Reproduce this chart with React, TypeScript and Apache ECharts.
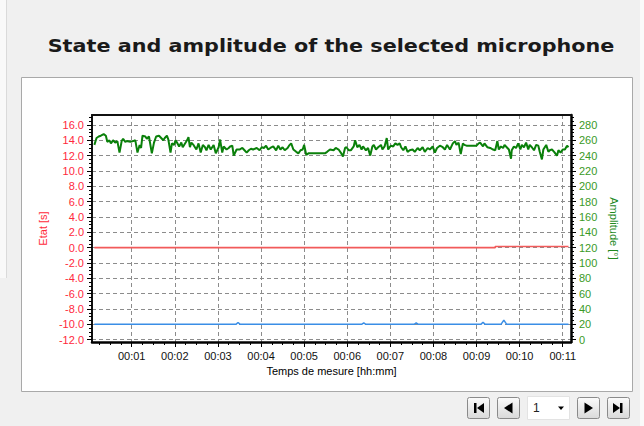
import React, { useEffect, useRef } from "react";
import * as echarts from "echarts";

const TITLE = "State and amplitude of the selected microphone";
const X_NAME = "Temps de mesure [hh:mm]";
const LEFT_NAME = "Etat [s]";
const RIGHT_NAME = "Amplitude [°]";
const PAGE_LABEL = "1";

// x axis (seconds), major ticks every minute
const xMajorTicks = [60, 120, 180, 240, 300, 360, 420, 480, 540, 600, 660];
const leftTicks = [-12, -10, -8, -6, -4, -2, 0, 2, 4, 6, 8, 10, 12, 14, 16];
const rightTicks = [0, 20, 40, 60, 80, 100, 120, 140, 160, 180, 200, 220, 240, 260, 280];

// Amplitude (green, right axis): time [s], value [°]
const ampTimes = [
  8, 11, 14, 17, 21, 24, 26, 29, 31, 34, 37, 40, 43, 46, 48, 51, 53, 58, 62, 65,
  68, 71, 73, 75, 79, 81, 84, 88, 91, 94, 98, 101, 104, 106, 109, 111, 114, 116, 119, 121,
  123, 126, 129, 131, 137, 139, 141, 143, 146, 150, 153, 156, 159, 162, 164, 167, 170, 174, 177, 181,
  183, 186, 188, 192, 195, 197, 200, 202, 206, 210, 214, 217, 220, 223, 226, 229, 234, 238, 241, 244,
  247, 250, 253, 257, 261, 264, 267, 270, 273, 277, 279, 282, 285, 289, 292, 295, 298, 300, 303, 306,
  318, 329, 332, 336, 341, 344, 348, 351, 354, 357, 359, 362, 365, 369, 371, 374, 377, 380, 382, 386,
  389, 392, 395, 397, 400, 403, 407, 409, 412, 415, 417, 419, 421, 424, 427, 430, 433, 435, 438, 441,
  444, 447, 451, 454, 458, 461, 465, 468, 472, 475, 479, 482, 485, 489, 493, 496, 499, 503, 507, 510,
  512, 515, 518, 521, 523, 526, 540, 543, 545, 549, 551, 555, 559, 563, 566, 569, 571, 574, 577, 579,
  582, 585, 588, 589, 592, 595, 598, 601, 603, 606, 609, 612, 614, 617, 620, 623, 626, 628, 631, 633,
  635, 637, 640, 642, 645, 648, 652, 654, 657, 660, 663, 666, 668,
];
const ampValues = [
  254, 263, 265, 266, 268, 266, 258, 260, 256, 260, 257, 259, 244, 259, 262, 258, 259, 258, 259, 260,
  244, 254, 250, 266, 265, 262, 265, 243, 257, 265, 266, 263, 260, 263, 266, 261, 244, 256, 254, 260,
  257, 252, 257, 251, 260, 264, 251, 257, 254, 248, 256, 244, 254, 251, 247, 254, 248, 254, 243, 251,
  261, 244, 252, 248, 250, 252, 253, 240, 248, 248, 250, 247, 244, 247, 249, 248, 250, 247, 251, 250,
  253, 248, 250, 252, 247, 253, 248, 251, 247, 250, 253, 256, 248, 245, 243, 247, 248, 254, 241, 243,
  243, 243, 245, 248, 247, 250, 248, 244, 239, 250, 251, 247, 247, 252, 260, 251, 254, 248, 252, 247,
  250, 240, 252, 254, 248, 251, 254, 248, 252, 263, 248, 251, 253, 252, 256, 254, 256, 251, 247, 252,
  245, 247, 248, 245, 250, 247, 251, 245, 250, 248, 252, 244, 250, 253, 251, 248, 254, 248, 256, 259,
  254, 257, 242, 256, 254, 253, 253, 256, 257, 252, 256, 251, 250, 248, 247, 259, 248, 252, 250, 254,
  251, 248, 236, 247, 252, 250, 256, 248, 254, 251, 257, 248, 254, 251, 247, 254, 253, 245, 235, 248,
  251, 254, 245, 247, 248, 245, 240, 247, 244, 248, 248, 253, 251,
];

// Etat (red, left axis)
const etatTimes = [8, 566, 566, 668];
const etatValues = [0, 0, 0.15, 0.15];

// Signal (blue, left axis)
const signalTimes = [8, 205, 208, 211, 380, 383, 386, 453, 456, 459, 546, 549, 552, 574, 578, 582, 668];
const signalValues = [-10, -10, -9.75, -10, -10, -9.82, -10, -10, -9.82, -10, -10, -9.72, -10, -10, -9.45, -10, -10];

const X_MIN = 4.7;
const X_MAX = 671.5;
const L_MIN = -12.3;
const L_MAX = 17.3;
const R_MIN = -3;
const R_MAX = 293;

const FONT = "'Liberation Sans', Arial, sans-serif";

function range(a: number, b: number, step: number): number[] {
  const out: number[] = [];
  for (let v = a; v <= b + 1e-9; v += step) out.push(Math.round(v * 100) / 100);
  return out;
}

export default function App() {
  const ref = useRef<HTMLDivElement>(null);

  useEffect(() => {
    document.body.style.margin = "0";
    if (!ref.current) return;
    const chart = echarts.init(ref.current, undefined, { renderer: "svg" });

    const xMinor = range(15, 660, 15);
    const leftMinor = range(-12, 17, 0.5);
    const rightMinor = range(0, 290, 5);

    const btnFill = new echarts.graphic.LinearGradient(0, 0, 0, 1, [
      { offset: 0, color: "#fbfbfb" },
      { offset: 1, color: "#d9d9d9" },
    ]);
    const btn = (x: number) => ({
      type: "rect",
      shape: { x: x + 0.5, y: 397.5, width: 22, height: 21, r: 2 },
      style: { fill: btnFill, stroke: "#8a8a8a", lineWidth: 1 },
      z: 5,
    });
    const poly = (pts: number[][]) => ({
      type: "polygon",
      shape: { points: pts },
      style: { fill: "#000" },
      z: 6,
    });

    const option: any = {
      animation: false,
      backgroundColor: "#f0f0f0",
      textStyle: { fontFamily: FONT },
      grid: {
        left: 92,
        right: 73,
        top: 115,
        bottom: 84,
        outerBoundsMode: "none",
      },
      graphic: [
        { type: "rect", shape: { x: 0, y: 0, width: 6, height: 278 }, style: { fill: "#f9f9f9" }, z: -20 },
        { type: "line", shape: { x1: 6.5, y1: 0, x2: 6.5, y2: 278 }, style: { stroke: "#dadada", lineWidth: 1 }, z: -19 },
        { type: "rect", shape: { x: 640, y: 0, width: 4, height: 426 }, style: { fill: "#fafafa" }, z: -20 },
        {
          type: "rect",
          shape: { x: 21.5, y: 77.5, width: 611, height: 314 },
          style: { fill: "#ffffff", stroke: "#a9a9a9", lineWidth: 1 },
          z: -10,
        },
        {
          type: "text",
          x: 331,
          y: 46,
          scaleX: 1.22,
          style: {
            text: TITLE,
            fontFamily: "'DejaVu Sans', sans-serif",
            fontWeight: "bold",
            fontSize: 17,
            fill: "#1a1a1a",
            textAlign: "center",
            textVerticalAlign: "middle",
          },
          z: 10,
        },
        btn(467),
        { type: "rect", shape: { x: 474, y: 403, width: 2.5, height: 10 }, style: { fill: "#000" }, z: 6 },
        poly([[484, 403], [484, 413], [477, 408]]),
        btn(497),
        poly([[512.5, 402.5], [512.5, 413.5], [504, 408]]),
        {
          type: "rect",
          shape: { x: 527.5, y: 396.5, width: 42, height: 23 },
          style: { fill: "#ffffff", stroke: "#e3e3e3", lineWidth: 1 },
          z: 5,
        },
        {
          type: "text",
          x: 533,
          y: 408,
          style: {
            text: PAGE_LABEL,
            fontFamily: FONT,
            fontSize: 12,
            fill: "#222",
            textVerticalAlign: "middle",
          },
          z: 6,
        },
        poly([[558, 406.5], [564, 406.5], [561, 410]]),
        btn(577),
        poly([[584.5, 402.5], [584.5, 413.5], [593, 408]]),
        btn(607),
        poly([[613, 403], [613, 413], [620, 408]]),
        { type: "rect", shape: { x: 620, y: 403, width: 2.5, height: 10 }, style: { fill: "#000" }, z: 6 },
      ],
      xAxis: [
        {
          type: "value",
          position: "bottom",
          min: X_MIN,
          max: X_MAX,
          name: X_NAME,
          nameLocation: "middle",
          nameGap: 23,
          nameTextStyle: { color: "#000", fontSize: 11, fontFamily: FONT },
          axisLine: { show: true, onZero: false, lineStyle: { color: "#000", width: 2.5 } },
          axisTick: { show: true, customValues: xMajorTicks, length: 5, lineStyle: { color: "#000", width: 1 } },
          axisLabel: {
            customValues: xMajorTicks,
            margin: 8,
            color: "#111",
            fontSize: 11,
            fontFamily: FONT,
            formatter: (v: number) => "00:" + String(Math.round(v / 60)).padStart(2, "0"),
          },
          splitLine: { show: true, lineStyle: { color: "#8c8c8c", width: 1, type: [4, 3] } },
        },
        {
          type: "value",
          position: "bottom",
          min: X_MIN,
          max: X_MAX,
          axisLine: { show: false, onZero: false },
          axisTick: { show: true, customValues: xMinor, length: 3, lineStyle: { color: "#000", width: 1 } },
          axisLabel: { show: false },
          splitLine: { show: false },
        },
        {
          type: "value",
          position: "top",
          min: X_MIN,
          max: X_MAX,
          axisLine: { show: true, onZero: false, lineStyle: { color: "#111", width: 2 } },
          axisTick: { show: false },
          axisLabel: { show: false },
          splitLine: { show: false },
        },
      ],
      yAxis: [
        {
          type: "value",
          position: "left",
          min: L_MIN,
          max: L_MAX,
          name: LEFT_NAME,
          nameLocation: "middle",
          nameGap: 32,
          nameTextStyle: { color: "#ff2a3a", fontSize: 11, fontFamily: FONT },
          axisLine: { show: true, onZero: false, lineStyle: { color: "#111", width: 2 } },
          axisTick: { show: true, customValues: leftTicks, length: 5, lineStyle: { color: "#000", width: 1 } },
          axisLabel: {
            customValues: leftTicks,
            margin: 8,
            color: "#ff283c",
            fontSize: 11,
            fontFamily: FONT,
            formatter: (v: number) => v.toFixed(1),
          },
          splitLine: { show: true, lineStyle: { color: "#8c8c8c", width: 1, type: [4, 3] } },
        },
        {
          type: "value",
          position: "right",
          min: R_MIN,
          max: R_MAX,
          name: RIGHT_NAME,
          nameLocation: "middle",
          nameRotate: -90,
          nameGap: 23,
          nameTextStyle: { color: "#1f8a1f", fontSize: 11, fontFamily: FONT },
          axisLine: { show: true, onZero: false, lineStyle: { color: "#000", width: 2.5 } },
          axisTick: { show: true, customValues: rightTicks, length: 5, lineStyle: { color: "#000", width: 1 } },
          axisLabel: {
            customValues: rightTicks,
            margin: 8,
            color: "#3a9a26",
            fontSize: 11,
            fontFamily: FONT,
          },
          splitLine: { show: false },
        },
        {
          type: "value",
          position: "left",
          min: L_MIN,
          max: L_MAX,
          axisLine: { show: false, onZero: false },
          axisTick: { show: true, customValues: leftMinor, length: 3, lineStyle: { color: "#000", width: 1 } },
          axisLabel: { show: false },
          splitLine: { show: false },
        },
        {
          type: "value",
          position: "right",
          min: R_MIN,
          max: R_MAX,
          axisLine: { show: false, onZero: false },
          axisTick: { show: true, customValues: rightMinor, length: 3, lineStyle: { color: "#000", width: 1 } },
          axisLabel: { show: false },
          splitLine: { show: false },
        },
      ],
      series: [
        {
          name: "Etat",
          type: "line",
          xAxisIndex: 0,
          yAxisIndex: 0,
          showSymbol: false,
          symbol: "none",
          lineStyle: { color: "#f25a5a", width: 1.6 },
          data: etatTimes.map((t, i) => [t, etatValues[i]]),
        },
        {
          name: "Signal",
          type: "line",
          xAxisIndex: 0,
          yAxisIndex: 0,
          showSymbol: false,
          symbol: "none",
          lineStyle: { color: "#3a8ee6", width: 1.5 },
          data: signalTimes.map((t, i) => [t, signalValues[i]]),
        },
        {
          name: "Amplitude",
          type: "line",
          xAxisIndex: 0,
          yAxisIndex: 1,
          showSymbol: false,
          symbol: "none",
          lineStyle: { color: "#0a800a", width: 2 },
          data: ampTimes.map((t, i) => [t, ampValues[i]]),
        },
      ],
    };

    chart.setOption(option);
    return () => chart.dispose();
  }, []);

  return <div ref={ref} style={{ width: 644, height: 426 }} />;
}
